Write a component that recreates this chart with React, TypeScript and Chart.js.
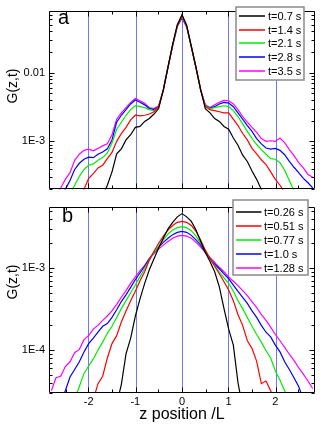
import React, { useEffect, useRef } from "react";
import { Chart, registerables } from "chart.js";
Chart.register(...registerables);

const FONT = "'Liberation Sans', Arial, Helvetica, sans-serif";

// z position / L (shared by all series)
const zPos = [
  -2.8, -2.7, -2.6, -2.5, -2.4, -2.3, -2.2, -2.1, -2.0, -1.9,
  -1.8, -1.7, -1.6, -1.5, -1.4, -1.3, -1.2, -1.1, -1.0, -0.9,
  -0.8, -0.7, -0.6, -0.5, -0.4, -0.3, -0.2, -0.1, 0, 0.1,
  0.2, 0.3, 0.4, 0.5, 0.6, 0.7, 0.8, 0.9, 1.0, 1.1,
  1.2, 1.3, 1.4, 1.5, 1.6, 1.7, 1.8, 1.9, 2.0, 2.1,
  2.2, 2.3, 2.4, 2.5, 2.6, 2.7, 2.8,
];

// Panel a
const topLabels = ["t=0.7 s", "t=1.4 s", "t=2.1 s", "t=2.8 s", "t=3.5 s"];
const gA07 = [
  null, null, null, null, null, null, null, null, null, null,
  null, 1.6e-4, 2.3e-4, 3.6e-4, 6.6e-4, 7.8e-4, 1.05e-3, 1.25e-3, 1.6e-3, 1.65e-3,
  1.95e-3, 2.15e-3, 2.5e-3, 3.0e-3, 5.6e-3, 0.012, 0.026, 0.05, 0.07, 0.049,
  0.024, 0.0118, 0.0056, 3.0e-3, 2.6e-3, 2.15e-3, 1.95e-3, 1.65e-3, 1.5e-3, 1.12e-3,
  8.8e-4, 6.3e-4, 5.1e-4, 3.7e-4, 2.8e-4, 2.0e-4, 1.5e-4, null, null, null,
  null, null, null, null, null, null, null,
];
const gA14 = [
  null, null, null, null, null, null, 1.5e-4, 2.0e-4, 2.9e-4, 3.4e-4,
  4.1e-4, 4.5e-4, 5.6e-4, 6.9e-4, 1.0e-3, 1.3e-3, 1.6e-3, 2.05e-3, 2.4e-3, 2.35e-3,
  2.4e-3, 2.5e-3, 2.7e-3, 3.2e-3, 5.6e-3, 0.012, 0.025, 0.049, 0.068, 0.048,
  0.024, 0.0118, 0.0056, 3.2e-3, 2.9e-3, 2.8e-3, 2.7e-3, 2.6e-3, 2.6e-3, 2.1e-3,
  1.7e-3, 1.3e-3, 1.05e-3, 7.9e-4, 6.6e-4, 5.4e-4, 4.6e-4, 3.6e-4, 2.8e-4, 2.3e-4,
  1.8e-4, null, null, null, null, null, null,
];
const gA21 = [
  null, null, null, null, 1.7e-4, 2.3e-4, 3.1e-4, 3.9e-4, 4.5e-4, 4.7e-4,
  5.3e-4, 5.8e-4, 6.8e-4, 9.5e-4, 1.5e-3, 1.9e-3, 2.4e-3, 2.9e-3, 3.3e-3, 3.2e-3,
  3.1e-3, 2.9e-3, 2.8e-3, 3.2e-3, 5.6e-3, 0.012, 0.025, 0.048, 0.066, 0.047,
  0.024, 0.0118, 0.0056, 3.3e-3, 3.0e-3, 3.1e-3, 3.2e-3, 3.3e-3, 3.2e-3, 2.8e-3,
  2.3e-3, 1.8e-3, 1.4e-3, 1.1e-3, 9.0e-4, 7.6e-4, 6.5e-4, 5.6e-4, 5.5e-4, 4.9e-4,
  3.8e-4, 2.7e-4, 1.9e-4, null, null, null, null,
];
const gA28 = [
  null, null, 1.6e-4, 2.0e-4, 2.7e-4, 3.9e-4, 4.8e-4, 5.5e-4, 5.9e-4, 5.8e-4,
  6.5e-4, 7.0e-4, 7.8e-4, 1.05e-3, 1.9e-3, 2.4e-3, 2.9e-3, 3.5e-3, 4.0e-3, 3.7e-3,
  3.4e-3, 3.0e-3, 2.9e-3, 3.2e-3, 5.6e-3, 0.012, 0.025, 0.048, 0.064, 0.047,
  0.024, 0.0118, 0.0056, 3.3e-3, 3.05e-3, 3.2e-3, 3.5e-3, 3.7e-3, 3.6e-3, 3.2e-3,
  2.6e-3, 2.1e-3, 1.7e-3, 1.4e-3, 1.1e-3, 9.2e-4, 8.0e-4, 7.7e-4, 7.9e-4, 7.4e-4,
  6.4e-4, 5.1e-4, 4.2e-4, 3.5e-4, 2.9e-4, 2.5e-4, 2.1e-4,
];
const gA35 = [
  null, 1.6e-4, 2.1e-4, 2.8e-4, 3.5e-4, 5.3e-4, 6.5e-4, 7.4e-4, 7.7e-4, 7.3e-4,
  7.9e-4, 8.6e-4, 9.2e-4, 1.25e-3, 2.1e-3, 2.6e-3, 3.1e-3, 3.7e-3, 4.2e-3, 3.9e-3,
  3.6e-3, 3.1e-3, 3.0e-3, 3.3e-3, 5.6e-3, 0.012, 0.025, 0.047, 0.062, 0.046,
  0.024, 0.0118, 0.0057, 3.4e-3, 3.1e-3, 3.4e-3, 3.7e-3, 3.95e-3, 3.9e-3, 3.5e-3,
  2.9e-3, 2.3e-3, 1.9e-3, 1.6e-3, 1.35e-3, 1.1e-3, 1.0e-3, 1.02e-3, 1.0e-3, 1.12e-3,
  9.6e-4, 7.6e-4, 6.2e-4, 4.9e-4, 4.1e-4, 3.3e-4, 3.0e-4,
];

// Panel b
const bottomLabels = ["t=0.26 s", "t=0.51 s", "t=0.77 s", "t=1.0 s", "t=1.28 s"];
const gB026 = [
  null, null, null, null, null, null, null, null, null, null,
  null, null, null, null, 2.2e-5, 3.8e-5, 9.0e-5, 1.4e-4, 2.6e-4, 4.2e-4,
  6.5e-4, 9.5e-4, 1.3e-3, 1.75e-3, 2.3e-3, 3.0e-3, 3.6e-3, 4.2e-3, 4.6e-3, 4.2e-3,
  3.7e-3, 2.9e-3, 2.1e-3, 1.55e-3, 1.2e-3, 9.0e-4, 5.9e-4, 3.2e-4, 1.8e-4, 1.15e-4,
  4.0e-5, 2.0e-5, null, null, null, null, null, null, null, null,
  null, null, null, null, null, null, null,
];
const gB051 = [
  null, null, null, null, null, null, null, null, null, 2.5e-5,
  3.9e-5, 4.8e-5, 8.0e-5, 1.2e-4, 1.5e-4, 2.2e-4, 3.0e-4, 4.0e-4, 5.2e-4, 7.0e-4,
  9.0e-4, 1.25e-3, 1.6e-3, 2.0e-3, 2.45e-3, 2.9e-3, 3.3e-3, 3.6e-3, 3.7e-3, 3.6e-3,
  3.3e-3, 2.8e-3, 2.2e-3, 1.65e-3, 1.3e-3, 1.05e-3, 8.5e-4, 6.8e-4, 5.4e-4, 4.0e-4,
  2.7e-4, 2.0e-4, 1.3e-4, 1.05e-4, 7.3e-5, 3.9e-5, 4.2e-5, 3.2e-5, 2.2e-5, null,
  null, null, null, null, null, null, null,
];
const gB077 = [
  null, null, null, null, null, 2.5e-5, 3.6e-5, 5.2e-5, 6.4e-5, 7.8e-5,
  1.0e-4, 1.25e-4, 1.6e-4, 1.95e-4, 2.5e-4, 3.2e-4, 4.0e-4, 5.0e-4, 6.2e-4, 7.8e-4,
  9.8e-4, 1.25e-3, 1.55e-3, 1.85e-3, 2.2e-3, 2.6e-3, 2.9e-3, 3.1e-3, 3.2e-3, 3.1e-3,
  2.85e-3, 2.45e-3, 2.0e-3, 1.6e-3, 1.3e-3, 1.08e-3, 9.0e-4, 7.6e-4, 6.5e-4, 5.2e-4,
  4.0e-4, 3.2e-4, 2.5e-4, 1.95e-4, 1.55e-4, 1.25e-4, 9.8e-5, 8.0e-5, 5.6e-5, 4.3e-5,
  3.2e-5, 2.2e-5, null, null, null, null, null,
];
const gB100 = [
  null, null, 2.4e-5, 3.2e-5, 4.7e-5, 5.8e-5, 7.2e-5, 9.5e-5, 1.2e-4, 1.4e-4,
  1.65e-4, 1.95e-4, 2.1e-4, 2.5e-4, 3.1e-4, 3.9e-4, 4.7e-4, 5.8e-4, 7.2e-4, 8.7e-4,
  1.05e-3, 1.3e-3, 1.55e-3, 1.8e-3, 2.05e-3, 2.3e-3, 2.55e-3, 2.72e-3, 2.8e-3, 2.72e-3,
  2.5e-3, 2.2e-3, 1.9e-3, 1.55e-3, 1.3e-3, 1.12e-3, 9.8e-4, 8.5e-4, 7.4e-4, 6.2e-4,
  5.2e-4, 4.4e-4, 3.7e-4, 3.0e-4, 2.5e-4, 2.0e-4, 1.65e-4, 1.45e-4, 1.15e-4, 9.5e-5,
  7.2e-5, 5.8e-5, 4.6e-5, 3.6e-5, 2.5e-5, null, null,
];
const gB128 = [
  3.2e-5, 4.6e-5, 4.8e-5, 6.3e-5, 7.2e-5, 9.3e-5, 1.02e-4, 1.34e-4, 1.5e-4, 1.8e-4,
  2.0e-4, 2.3e-4, 2.6e-4, 3.0e-4, 3.6e-4, 4.4e-4, 5.3e-4, 6.5e-4, 7.8e-4, 9.2e-4,
  1.08e-3, 1.3e-3, 1.5e-3, 1.7e-3, 1.9e-3, 2.1e-3, 2.3e-3, 2.45e-3, 2.5e-3, 2.45e-3,
  2.3e-3, 2.05e-3, 1.8e-3, 1.55e-3, 1.35e-3, 1.17e-3, 1.02e-3, 9.0e-4, 7.8e-4, 6.9e-4,
  6.1e-4, 5.3e-4, 4.6e-4, 3.9e-4, 3.3e-4, 2.7e-4, 2.3e-4, 1.9e-4, 1.55e-4, 1.3e-4,
  1.08e-4, 8.9e-5, 7.5e-5, 6.1e-5, 5.1e-5, 4.2e-5, 3.4e-5,
];

const seriesColors = ["#000000", "#ff0000", "#00ee00", "#0000ff", "#ff00ff"];

const xTickValues = [-2, -1, 0, 1, 2];
const xTickLabels = ["-2", "-1", "0", "1", "2"];
const xMinorTicks = [-2.5, -1.5, -0.5, 0.5, 1.5, 2.5];
const guideLines = [-2, -1, 0, 1, 2];

const topYTicks = [1e-3, 1e-2];
const topYTickLabels = ["1E-3", "0.01"];
const bottomYTicks = [1e-4, 1e-3];
const bottomYTickLabels = ["1E-4", "1E-3"];

const X_MIN = -2.85;
const X_MAX = 2.85;

// snap a vertical line to an even pixel column (keeps thin coloured lines crisp)
const snapX = (px: number) => 2 * Math.round(px / 2) + 0.5;

const decorPlugin = {
  id: "decor",
  beforeDatasetsDraw(chart: any) {
    const { ctx, chartArea: a, scales } = chart;
    const x = scales.x;
    ctx.save();
    ctx.strokeStyle = "rgb(115,115,255)";
    ctx.lineWidth = 1;
    for (const v of guideLines) {
      const px = snapX(x.getPixelForValue(v));
      ctx.beginPath();
      ctx.moveTo(px, a.top);
      ctx.lineTo(px, a.bottom);
      ctx.stroke();
    }
    ctx.restore();
  },
  afterDatasetsDraw(chart: any) {
    const { ctx, chartArea: a, scales } = chart;
    const x = scales.x;
    const y = scales.y;
    ctx.save();
    ctx.strokeStyle = "#000";
    ctx.lineWidth = 1;
    const L = Math.round(a.left) + 0.5;
    const R = Math.round(a.right) - 0.5;
    const T = Math.round(a.top) + 0.5;
    const B = Math.round(a.bottom) - 0.5;
    ctx.beginPath();
    ctx.rect(L, T, R - L, B - T);
    ctx.stroke();
    const xt = (v: number, len: number) => {
      const px = snapX(x.getPixelForValue(v));
      ctx.beginPath();
      ctx.moveTo(px, B);
      ctx.lineTo(px, B - len);
      ctx.moveTo(px, T);
      ctx.lineTo(px, T + len);
      ctx.stroke();
    };
    xTickValues.forEach((v) => xt(v, 5));
    xMinorTicks.forEach((v) => xt(v, 3));
    const lo = Math.floor(Math.log10(y.min));
    const hi = Math.ceil(Math.log10(y.max));
    for (let d = lo; d <= hi; d++) {
      for (let m = 1; m <= 9; m++) {
        const v = m * Math.pow(10, d);
        if (v < y.min || v > y.max) continue;
        const len = m === 1 ? 5 : 3;
        const py = Math.round(y.getPixelForValue(v)) + 0.5;
        ctx.beginPath();
        ctx.moveTo(L, py);
        ctx.lineTo(L + len, py);
        ctx.moveTo(R, py);
        ctx.lineTo(R - len, py);
        ctx.stroke();
      }
    }
    ctx.restore();
  },
  afterDraw(chart: any, _a: any, opts: any) {
    const { ctx } = chart;
    ctx.save();
    ctx.fillStyle = "#000";
    ctx.font = `14px ${FONT}`;
    ctx.textAlign = "center";
    ctx.textBaseline = "middle";
    ctx.translate(opts.titleX, opts.titleY);
    ctx.rotate(-Math.PI / 2);
    ctx.fillText(opts.title, 0, 0);
    ctx.restore();
    ctx.save();
    ctx.fillStyle = "#000";
    ctx.font = `20px ${FONT}`;
    ctx.textAlign = "left";
    ctx.textBaseline = "alphabetic";
    ctx.fillText(opts.letter, opts.letterX, opts.letterY);
    ctx.restore();
    const lg = opts.legend;
    ctx.save();
    ctx.fillStyle = "#fff";
    ctx.fillRect(lg.left, lg.top, lg.width, lg.height);
    ctx.strokeStyle = "#8a8a8a";
    ctx.lineWidth = 1.5;
    ctx.strokeRect(lg.left, lg.top, lg.width, lg.height);
    ctx.font = `11px ${FONT}`;
    ctx.textAlign = "left";
    ctx.textBaseline = "middle";
    chart.data.datasets.forEach((ds: any, i: number) => {
      const ry = Math.round(lg.top + lg.rowStart + i * lg.rowStep);
      ctx.strokeStyle = ds.borderColor;
      ctx.lineWidth = 1.5;
      ctx.beginPath();
      ctx.moveTo(lg.left + lg.lineStart, ry);
      ctx.lineTo(lg.left + lg.lineEnd, ry);
      ctx.stroke();
      ctx.fillStyle = "#000";
      ctx.fillText(ds.label, lg.left + lg.textStart, ry + 0.5);
    });
    ctx.restore();
  },
};

function makeDatasets(series: (number | null)[][], labels: string[]) {
  return series.map((vals, i) => ({
    label: labels[i],
    data: zPos.map((z, j) => ({ x: z, y: vals[j] })),
    borderColor: seriesColors[i],
    backgroundColor: seriesColors[i],
    borderWidth: 1.2,
    pointRadius: 0,
    fill: false,
    tension: 0,
    spanGaps: false,
  }));
}

function yScale(min: number, max: number, ticks: number[], labels: string[]) {
  return {
    type: "logarithmic",
    min,
    max,
    grid: { display: false, drawTicks: false },
    border: { display: false },
    afterFit: (s: any) => {
      s.width = 49;
    },
    afterBuildTicks: (s: any) => {
      s.ticks = ticks.map((v) => ({ value: v }));
    },
    ticks: {
      padding: 4,
      color: "#000",
      font: { family: FONT, size: 11 },
      autoSkip: false,
      callback: (v: any) => {
        const idx = ticks.findIndex((t) => Math.abs(Math.log10(t) - Math.log10(v)) < 1e-6);
        return idx >= 0 ? labels[idx] : "";
      },
    },
  };
}

export default function App() {
  const topRef = useRef<HTMLCanvasElement>(null);
  const botRef = useRef<HTMLCanvasElement>(null);

  useEffect(() => {
    const top = new Chart(topRef.current as HTMLCanvasElement, {
      type: "line",
      data: { datasets: makeDatasets([gA07, gA14, gA21, gA28, gA35], topLabels) as any },
      plugins: [decorPlugin as any],
      options: {
        responsive: false,
        animation: false,
        devicePixelRatio: 1,
        layout: { padding: { top: 3, right: 18, bottom: 2, left: 0 } },
        plugins: {
          legend: { display: false },
          tooltip: { enabled: false },
          decor: {
            title: "G(z,t)",
            titleX: 13,
            titleY: 86,
            letter: "a",
            letterX: 58,
            letterY: 24,
            legend: {
              left: 236, top: 7, width: 68, height: 73,
              rowStart: 8.7, rowStep: 13.8, lineStart: 3, lineEnd: 29, textStart: 32,
            },
          },
        } as any,
        scales: {
          x: { type: "linear", min: X_MIN, max: X_MAX, display: false },
          y: yScale(2e-4, 0.08, topYTicks, topYTickLabels) as any,
        },
      },
    });

    const bottom = new Chart(botRef.current as HTMLCanvasElement, {
      type: "line",
      data: { datasets: makeDatasets([gB026, gB051, gB077, gB100, gB128], bottomLabels) as any },
      plugins: [decorPlugin as any],
      options: {
        responsive: false,
        animation: false,
        devicePixelRatio: 1,
        layout: { padding: { top: 2, right: 18, bottom: 0, left: 0 } },
        plugins: {
          legend: { display: false },
          tooltip: { enabled: false },
          decor: {
            title: "G(z,t)",
            titleX: 13,
            titleY: 86,
            letter: "b",
            letterX: 62,
            letterY: 26,
            legend: {
              left: 233, top: 4, width: 75, height: 75,
              rowStart: 11.7, rowStep: 14, lineStart: 3, lineEnd: 28.5, textStart: 31,
            },
          },
        } as any,
        scales: {
          x: {
            type: "linear",
            min: X_MIN,
            max: X_MAX,
            grid: { display: false, drawTicks: false },
            border: { display: false },
            afterFit: (s: any) => {
              s.height = 34;
            },
            afterBuildTicks: (s: any) => {
              s.ticks = xTickValues.map((v) => ({ value: v }));
            },
            ticks: {
              padding: 2,
              color: "#000",
              font: { family: FONT, size: 11 },
              autoSkip: false,
              maxRotation: 0,
              callback: (v: any) => {
                const idx = xTickValues.indexOf(Math.round(Number(v)));
                return idx >= 0 ? xTickLabels[idx] : "";
              },
            },
            title: {
              display: true,
              text: "z position /L",
              color: "#000",
              font: { family: FONT, size: 16 },
              padding: { top: 0, bottom: 3 },
            },
          } as any,
          y: yScale(3e-5, 5.6e-3, bottomYTicks, bottomYTickLabels) as any,
        },
      },
    });

    return () => {
      top.destroy();
      bottom.destroy();
    };
  }, []);

  return (
    <div style={{ position: "fixed", left: 0, top: 0, width: 333, height: 427, background: "#fff" }}>
      <canvas
        ref={topRef}
        width={333}
        height={200}
        style={{ position: "absolute", left: 0, top: 0, width: 333, height: 200 }}
      />
      <canvas
        ref={botRef}
        width={333}
        height={231}
        style={{ position: "absolute", left: 0, top: 196, width: 333, height: 231 }}
      />
    </div>
  );
}
